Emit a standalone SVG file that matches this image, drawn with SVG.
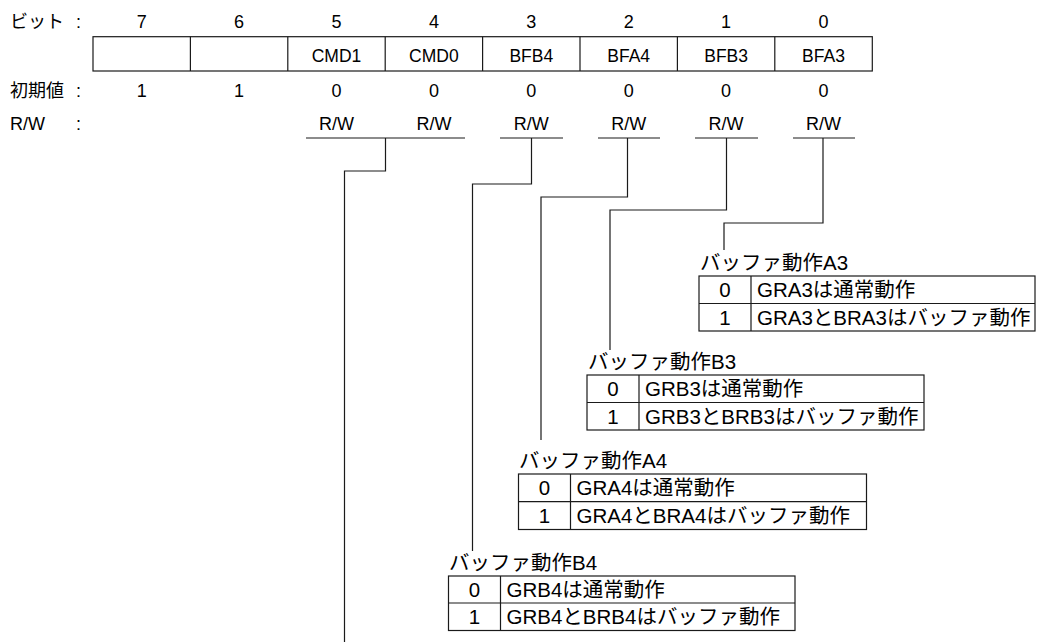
<svg xmlns="http://www.w3.org/2000/svg" width="1044" height="642" viewBox="0 0 1044 642">
<style>
text{font-family:"Liberation Sans","Noto Sans CJK JP",sans-serif;fill:#000}
.h{font-size:18px}
.c{text-anchor:middle}
.r{font-size:17.5px}
.t{font-size:20.5px}
.ln{fill:none;stroke:#1a1a1a;stroke-width:1.2}
.bx{fill:#fff;stroke:#1a1a1a;stroke-width:1.2}
</style>
<rect width="1044" height="642" fill="#fff"/>
<g id="labels" class="h">
<text x="10" y="28">ビット</text><text x="76" y="28">:</text>
<text x="10" y="97">初期値</text><text x="76" y="97">:</text>
<text x="10" y="130">R/W</text><text x="76" y="130">:</text>
</g>
<g id="register">
<rect class="bx" x="93" y="36.7" width="779.3" height="34.3"/>
<path class="ln" d="M190.4,36.7V71M287.8,36.7V71M385.2,36.7V71M482.6,36.7V71M580,36.7V71M677.4,36.7V71M774.8,36.7V71"/>
<g class="h c">
<text x="141.7" y="28">7</text><text x="239.1" y="28">6</text><text x="336.5" y="28">5</text><text x="433.9" y="28">4</text><text x="531.3" y="28">3</text><text x="628.7" y="28">2</text><text x="726.1" y="28">1</text><text x="823.5" y="28">0</text>
<text x="141.7" y="97">1</text><text x="239.1" y="97">1</text><text x="336.5" y="97">0</text><text x="433.9" y="97">0</text><text x="531.3" y="97">0</text><text x="628.7" y="97">0</text><text x="726.1" y="97">0</text><text x="823.5" y="97">0</text>
<text x="336.5" y="130">R/W</text><text x="433.9" y="130">R/W</text><text x="531.3" y="130">R/W</text><text x="628.7" y="130">R/W</text><text x="726.1" y="130">R/W</text><text x="823.5" y="130">R/W</text>
</g>
<g class="r c">
<text x="336.5" y="62">CMD1</text><text x="433.9" y="62">CMD0</text><text x="531.3" y="62">BFB4</text><text x="628.7" y="62">BFA4</text><text x="726.1" y="62">BFB3</text><text x="823.5" y="62">BFA3</text>
</g>
</g>
<g id="connectors" class="ln">
<path d="M306,138H465M500,138H563M598,138H660M695,138H758M793,138H855"/>
<path d="M385.5,138V171H344.5V642"/>
<path d="M531.5,138V184H472.5V551"/>
<path d="M627.5,138V197H541V440"/>
<path d="M726.5,138V210H610V350"/>
<path d="M823,138V223H724V250"/>
</g>
<g id="tableA3">
<text class="t" x="700" y="270">バッファ動作A3</text>
<rect class="bx" x="699" y="276" width="336" height="55"/>
<path class="ln" d="M699,303.5H1035M751,276V331"/>
<text class="t c" x="725" y="297">0</text><text class="t" x="757" y="297">GRA3は通常動作</text>
<text class="t c" x="725" y="324.5">1</text><text class="t" x="757" y="324.5">GRA3とBRA3はバッファ動作</text>
</g>
<g id="tableB3">
<text class="t" x="588" y="369">バッファ動作B3</text>
<rect class="bx" x="587" y="375" width="337" height="55"/>
<path class="ln" d="M587,402.5H924M639,375V430"/>
<text class="t c" x="613" y="396">0</text><text class="t" x="645" y="396">GRB3は通常動作</text>
<text class="t c" x="613" y="423.5">1</text><text class="t" x="645" y="423.5">GRB3とBRB3はバッファ動作</text>
</g>
<g id="tableA4">
<text class="t" x="519" y="468">バッファ動作A4</text>
<rect class="bx" x="518.5" y="474" width="348" height="55.5"/>
<path class="ln" d="M518.5,501.7H866.5M570.5,474V529.5"/>
<text class="t c" x="544.5" y="495">0</text><text class="t" x="576.5" y="495">GRA4は通常動作</text>
<text class="t c" x="544.5" y="522.5">1</text><text class="t" x="576.5" y="522.5">GRA4とBRA4はバッファ動作</text>
</g>
<g id="tableB4">
<text class="t" x="449" y="570">バッファ動作B4</text>
<rect class="bx" x="448.5" y="576" width="346.5" height="54.5"/>
<path class="ln" d="M448.5,603H795M500.5,576V630.5"/>
<text class="t c" x="474.5" y="597">0</text><text class="t" x="506.5" y="597">GRB4は通常動作</text>
<text class="t c" x="474.5" y="624">1</text><text class="t" x="506.5" y="624">GRB4とBRB4はバッファ動作</text>
</g>
</svg>
